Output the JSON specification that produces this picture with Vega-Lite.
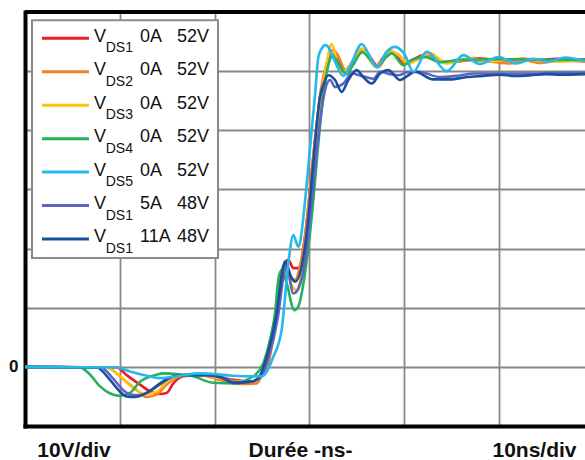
{
"$schema": "https://vega.github.io/schema/vega-lite/v6.json",
"width": 560, "height": 414,
"autosize": {"type": "none"},
"padding": {"left": 25, "top": 12, "right": 0, "bottom": 34},
"background": "white",
"config": {"view": {"stroke": null}, "font": "Liberation Sans"},
"datasets": {
"curves": [
{"s":"VDS1 0A 52V","t":0,"v":0},{"s":"VDS1 0A 52V","t":9.68,"v":-0.1},{"s":"VDS1 0A 52V","t":10.73,"v":-1.4},{"s":"VDS1 0A 52V","t":12.14,"v":-3.0},{"s":"VDS1 0A 52V","t":13.37,"v":-4.3},{"s":"VDS1 0A 52V","t":14.25,"v":-4.6},{"s":"VDS1 0A 52V","t":14.96,"v":-4.4},{"s":"VDS1 0A 52V","t":15.65,"v":-2.8},{"s":"VDS1 0A 52V","t":16.71,"v":-1.6},{"s":"VDS1 0A 52V","t":18.47,"v":-1.4},{"s":"VDS1 0A 52V","t":20.58,"v":-1.7},{"s":"VDS1 0A 52V","t":21.98,"v":-2.2},{"s":"VDS1 0A 52V","t":24.10,"v":-2.5},{"s":"VDS1 0A 52V","t":24.80,"v":-1.8},{"s":"VDS1 0A 52V","t":25.51,"v":1.5},{"s":"VDS1 0A 52V","t":26.56,"v":10},{"s":"VDS1 0A 52V","t":27.26,"v":17},{"s":"VDS1 0A 52V","t":27.79,"v":18.1},{"s":"VDS1 0A 52V","t":28.32,"v":16.7},{"s":"VDS1 0A 52V","t":28.84,"v":16.7},{"s":"VDS1 0A 52V","t":29.55,"v":22},{"s":"VDS1 0A 52V","t":30.08,"v":30},{"s":"VDS1 0A 52V","t":30.61,"v":38.5},{"s":"VDS1 0A 52V","t":31.13,"v":45.5},{"s":"VDS1 0A 52V","t":31.84,"v":50.5},{"s":"VDS1 0A 52V","t":32.54,"v":52.8},{"s":"VDS1 0A 52V","t":33.05,"v":52.3},{"s":"VDS1 0A 52V","t":33.59,"v":49.9},{"s":"VDS1 0A 52V","t":34.3,"v":51.0},{"s":"VDS1 0A 52V","t":35.01,"v":52.8},{"s":"VDS1 0A 52V","t":35.88,"v":53.5},{"s":"VDS1 0A 52V","t":36.5,"v":52.2},{"s":"VDS1 0A 52V","t":37.12,"v":51.0},{"s":"VDS1 0A 52V","t":37.8,"v":52.3},{"s":"VDS1 0A 52V","t":38.52,"v":53.5},{"s":"VDS1 0A 52V","t":39.2,"v":52.6},{"s":"VDS1 0A 52V","t":39.93,"v":51.3},{"s":"VDS1 0A 52V","t":41.0,"v":52.0},{"s":"VDS1 0A 52V","t":42.04,"v":52.7},{"s":"VDS1 0A 52V","t":43.80,"v":51.6},{"s":"VDS1 0A 52V","t":45.56,"v":51.6},{"s":"VDS1 0A 52V","t":47.3,"v":52.2},{"s":"VDS1 0A 52V","t":49.08,"v":52.0},{"s":"VDS1 0A 52V","t":50.8,"v":51.8},{"s":"VDS1 0A 52V","t":52.59,"v":52.1},{"s":"VDS1 0A 52V","t":54.3,"v":51.9},{"s":"VDS1 0A 52V","t":56.11,"v":52.1},{"s":"VDS1 0A 52V","t":57.6,"v":51.9},{"s":"VDS1 0A 52V","t":59.1,"v":52.0},

{"s":"VDS2 0A 52V","t":0,"v":0},{"s":"VDS2 0A 52V","t":8.62,"v":-0.1},{"s":"VDS2 0A 52V","t":10.37,"v":-2.1},{"s":"VDS2 0A 52V","t":11.79,"v":-3.9},{"s":"VDS2 0A 52V","t":12.84,"v":-5.1},{"s":"VDS2 0A 52V","t":13.90,"v":-4.7},{"s":"VDS2 0A 52V","t":14.96,"v":-3.0},{"s":"VDS2 0A 52V","t":16.36,"v":-1.6},{"s":"VDS2 0A 52V","t":18.47,"v":-1.4},{"s":"VDS2 0A 52V","t":20.58,"v":-2.2},{"s":"VDS2 0A 52V","t":22.69,"v":-2.9},{"s":"VDS2 0A 52V","t":24.45,"v":-2.8},{"s":"VDS2 0A 52V","t":24.98,"v":-1.5},{"s":"VDS2 0A 52V","t":25.51,"v":-0.5},{"s":"VDS2 0A 52V","t":26.1,"v":4},{"s":"VDS2 0A 52V","t":26.7,"v":11},{"s":"VDS2 0A 52V","t":27.44,"v":16.7},{"s":"VDS2 0A 52V","t":27.9,"v":15.5},{"s":"VDS2 0A 52V","t":28.50,"v":14.7},{"s":"VDS2 0A 52V","t":29.02,"v":17},{"s":"VDS2 0A 52V","t":29.55,"v":22},{"s":"VDS2 0A 52V","t":30.08,"v":30},{"s":"VDS2 0A 52V","t":30.71,"v":40},{"s":"VDS2 0A 52V","t":31.24,"v":47},{"s":"VDS2 0A 52V","t":31.87,"v":51.5},{"s":"VDS2 0A 52V","t":32.54,"v":53.6},{"s":"VDS2 0A 52V","t":32.9,"v":53},{"s":"VDS2 0A 52V","t":33.95,"v":49.9},{"s":"VDS2 0A 52V","t":34.83,"v":52},{"s":"VDS2 0A 52V","t":35.70,"v":53.5},{"s":"VDS2 0A 52V","t":36.4,"v":52},{"s":"VDS2 0A 52V","t":37.29,"v":50.7},{"s":"VDS2 0A 52V","t":38.52,"v":53.3},{"s":"VDS2 0A 52V","t":39.6,"v":52.5},{"s":"VDS2 0A 52V","t":40.11,"v":51.3},{"s":"VDS2 0A 52V","t":41.16,"v":52},{"s":"VDS2 0A 52V","t":42.74,"v":52.5},{"s":"VDS2 0A 52V","t":44.51,"v":51.5},{"s":"VDS2 0A 52V","t":46.97,"v":51.8},{"s":"VDS2 0A 52V","t":49.08,"v":51.6},{"s":"VDS2 0A 52V","t":51.19,"v":51.3},{"s":"VDS2 0A 52V","t":52.77,"v":51.8},{"s":"VDS2 0A 52V","t":54.35,"v":51.4},{"s":"VDS2 0A 52V","t":56.5,"v":51.8},{"s":"VDS2 0A 52V","t":59.1,"v":51.6},

{"s":"VDS3 0A 52V","t":0,"v":0},{"s":"VDS3 0A 52V","t":8.62,"v":-0.1},{"s":"VDS3 0A 52V","t":10.03,"v":-1.6},{"s":"VDS3 0A 52V","t":11.43,"v":-3.6},{"s":"VDS3 0A 52V","t":12.66,"v":-4.6},{"s":"VDS3 0A 52V","t":13.90,"v":-4.2},{"s":"VDS3 0A 52V","t":14.96,"v":-2.5},{"s":"VDS3 0A 52V","t":16.36,"v":-1.5},{"s":"VDS3 0A 52V","t":18.47,"v":-1.3},{"s":"VDS3 0A 52V","t":20.58,"v":-1.9},{"s":"VDS3 0A 52V","t":22.34,"v":-2.5},{"s":"VDS3 0A 52V","t":24.10,"v":-2.5},{"s":"VDS3 0A 52V","t":24.80,"v":-1.7},{"s":"VDS3 0A 52V","t":25.4,"v":0.5},{"s":"VDS3 0A 52V","t":26.1,"v":6},{"s":"VDS3 0A 52V","t":26.91,"v":13},{"s":"VDS3 0A 52V","t":27.62,"v":16.1},{"s":"VDS3 0A 52V","t":28.07,"v":14.0},{"s":"VDS3 0A 52V","t":28.68,"v":13.0},{"s":"VDS3 0A 52V","t":29.2,"v":16},{"s":"VDS3 0A 52V","t":29.7,"v":22},{"s":"VDS3 0A 52V","t":30.24,"v":30},{"s":"VDS3 0A 52V","t":30.77,"v":39},{"s":"VDS3 0A 52V","t":31.3,"v":46},{"s":"VDS3 0A 52V","t":31.8,"v":51},{"s":"VDS3 0A 52V","t":32.37,"v":54.6},{"s":"VDS3 0A 52V","t":32.8,"v":52.5},{"s":"VDS3 0A 52V","t":33.42,"v":49.6},{"s":"VDS3 0A 52V","t":34.3,"v":51},{"s":"VDS3 0A 52V","t":35.54,"v":53.8},{"s":"VDS3 0A 52V","t":36.2,"v":52.5},{"s":"VDS3 0A 52V","t":36.94,"v":50.8},{"s":"VDS3 0A 52V","t":37.7,"v":51.8},{"s":"VDS3 0A 52V","t":38.70,"v":53.3},{"s":"VDS3 0A 52V","t":39.58,"v":52.5},{"s":"VDS3 0A 52V","t":40.45,"v":51.3},{"s":"VDS3 0A 52V","t":42.74,"v":53.0},{"s":"VDS3 0A 52V","t":44.51,"v":51.3},{"s":"VDS3 0A 52V","t":46.97,"v":52.2},{"s":"VDS3 0A 52V","t":49.08,"v":51.7},{"s":"VDS3 0A 52V","t":52.24,"v":52.1},{"s":"VDS3 0A 52V","t":55.4,"v":51.6},{"s":"VDS3 0A 52V","t":59.1,"v":51.8},

{"s":"VDS4 0A 52V","t":0,"v":0},{"s":"VDS4 0A 52V","t":5.80,"v":-0.1},{"s":"VDS4 0A 52V","t":6.8,"v":-1.2},{"s":"VDS4 0A 52V","t":7.92,"v":-3.3},{"s":"VDS4 0A 52V","t":9.0,"v":-4.5},{"s":"VDS4 0A 52V","t":10.03,"v":-4.9},{"s":"VDS4 0A 52V","t":11.08,"v":-4.4},{"s":"VDS4 0A 52V","t":12.14,"v":-2.5},{"s":"VDS4 0A 52V","t":13.54,"v":-1.5},{"s":"VDS4 0A 52V","t":14.60,"v":-1.1},{"s":"VDS4 0A 52V","t":16.01,"v":-1.2},{"s":"VDS4 0A 52V","t":17.76,"v":-1.6},{"s":"VDS4 0A 52V","t":19.87,"v":-2.7},{"s":"VDS4 0A 52V","t":22.34,"v":-2.8},{"s":"VDS4 0A 52V","t":23.75,"v":-1.9},{"s":"VDS4 0A 52V","t":24.27,"v":-1.4},{"s":"VDS4 0A 52V","t":25.15,"v":0.6},{"s":"VDS4 0A 52V","t":25.86,"v":4.6},{"s":"VDS4 0A 52V","t":26.39,"v":9.1},{"s":"VDS4 0A 52V","t":26.73,"v":14.7},{"s":"VDS4 0A 52V","t":27.09,"v":16.4},{"s":"VDS4 0A 52V","t":27.62,"v":14.1},{"s":"VDS4 0A 52V","t":28.42,"v":9.6},{"s":"VDS4 0A 52V","t":28.84,"v":10.2},{"s":"VDS4 0A 52V","t":29.55,"v":15.8},{"s":"VDS4 0A 52V","t":30.26,"v":25.4},{"s":"VDS4 0A 52V","t":30.96,"v":37.8},{"s":"VDS4 0A 52V","t":31.48,"v":46.2},{"s":"VDS4 0A 52V","t":32.01,"v":51.0},{"s":"VDS4 0A 52V","t":32.37,"v":52.7},{"s":"VDS4 0A 52V","t":32.72,"v":52.2},{"s":"VDS4 0A 52V","t":33.25,"v":50.8},{"s":"VDS4 0A 52V","t":33.95,"v":49.5},{"s":"VDS4 0A 52V","t":34.6,"v":51.0},{"s":"VDS4 0A 52V","t":35.6,"v":53.2},{"s":"VDS4 0A 52V","t":36.3,"v":52.2},{"s":"VDS4 0A 52V","t":37.12,"v":50.8},{"s":"VDS4 0A 52V","t":38.0,"v":52.2},{"s":"VDS4 0A 52V","t":38.7,"v":53.0},{"s":"VDS4 0A 52V","t":39.93,"v":51.0},{"s":"VDS4 0A 52V","t":40.85,"v":51.9},{"s":"VDS4 0A 52V","t":42.22,"v":52.4},{"s":"VDS4 0A 52V","t":43.80,"v":51.5},{"s":"VDS4 0A 52V","t":45.9,"v":51.9},{"s":"VDS4 0A 52V","t":49.08,"v":52.0},{"s":"VDS4 0A 52V","t":52.2,"v":52.0},{"s":"VDS4 0A 52V","t":55.4,"v":51.9},{"s":"VDS4 0A 52V","t":59.1,"v":51.9},

{"s":"VDS1 5A 48V","t":0,"v":0},{"s":"VDS1 5A 48V","t":8.0,"v":-0.1},{"s":"VDS1 5A 48V","t":9.3,"v":-2.0},{"s":"VDS1 5A 48V","t":10.4,"v":-4.0},{"s":"VDS1 5A 48V","t":11.1,"v":-4.7},{"s":"VDS1 5A 48V","t":12.0,"v":-4.8},{"s":"VDS1 5A 48V","t":13.2,"v":-4.1},{"s":"VDS1 5A 48V","t":14.6,"v":-2.6},{"s":"VDS1 5A 48V","t":15.7,"v":-1.6},{"s":"VDS1 5A 48V","t":17.5,"v":-1.3},{"s":"VDS1 5A 48V","t":19.5,"v":-1.4},{"s":"VDS1 5A 48V","t":21.0,"v":-1.9},{"s":"VDS1 5A 48V","t":22.3,"v":-2.6},{"s":"VDS1 5A 48V","t":23.9,"v":-2.5},{"s":"VDS1 5A 48V","t":24.8,"v":-1.9},{"s":"VDS1 5A 48V","t":25.7,"v":1.5},{"s":"VDS1 5A 48V","t":26.7,"v":8.5},{"s":"VDS1 5A 48V","t":27.35,"v":16.0},{"s":"VDS1 5A 48V","t":27.6,"v":17.2},{"s":"VDS1 5A 48V","t":28.32,"v":12.4},{"s":"VDS1 5A 48V","t":28.7,"v":12.8},{"s":"VDS1 5A 48V","t":29.7,"v":19.5},{"s":"VDS1 5A 48V","t":30.3,"v":28.5},{"s":"VDS1 5A 48V","t":30.9,"v":38},{"s":"VDS1 5A 48V","t":31.4,"v":44.5},{"s":"VDS1 5A 48V","t":31.84,"v":47.8},{"s":"VDS1 5A 48V","t":32.2,"v":48.5},{"s":"VDS1 5A 48V","t":32.72,"v":47.3},{"s":"VDS1 5A 48V","t":33.6,"v":47.9},{"s":"VDS1 5A 48V","t":34.48,"v":49.6},{"s":"VDS1 5A 48V","t":35.5,"v":49.2},{"s":"VDS1 5A 48V","t":36.8,"v":48.7},{"s":"VDS1 5A 48V","t":37.47,"v":49.9},{"s":"VDS1 5A 48V","t":38.52,"v":49.5},{"s":"VDS1 5A 48V","t":39.40,"v":49.3},{"s":"VDS1 5A 48V","t":40.3,"v":49.8},{"s":"VDS1 5A 48V","t":41.51,"v":49.9},{"s":"VDS1 5A 48V","t":43.80,"v":49.0},{"s":"VDS1 5A 48V","t":45.5,"v":49.2},{"s":"VDS1 5A 48V","t":47.5,"v":49.6},{"s":"VDS1 5A 48V","t":50.13,"v":49.6},{"s":"VDS1 5A 48V","t":53.3,"v":49.6},{"s":"VDS1 5A 48V","t":56.11,"v":49.7},{"s":"VDS1 5A 48V","t":59.1,"v":49.7},

{"s":"VDS1 11A 48V","t":0,"v":0},{"s":"VDS1 11A 48V","t":7.57,"v":-0.1},{"s":"VDS1 11A 48V","t":8.97,"v":-2.2},{"s":"VDS1 11A 48V","t":10.03,"v":-4.2},{"s":"VDS1 11A 48V","t":10.73,"v":-5.0},{"s":"VDS1 11A 48V","t":11.61,"v":-5.1},{"s":"VDS1 11A 48V","t":12.84,"v":-4.4},{"s":"VDS1 11A 48V","t":14.25,"v":-2.8},{"s":"VDS1 11A 48V","t":15.30,"v":-1.8},{"s":"VDS1 11A 48V","t":17.07,"v":-1.4},{"s":"VDS1 11A 48V","t":19.18,"v":-1.4},{"s":"VDS1 11A 48V","t":20.58,"v":-1.7},{"s":"VDS1 11A 48V","t":21.98,"v":-2.7},{"s":"VDS1 11A 48V","t":23.75,"v":-2.5},{"s":"VDS1 11A 48V","t":24.62,"v":-1.9},{"s":"VDS1 11A 48V","t":25.51,"v":1.7},{"s":"VDS1 11A 48V","t":26.56,"v":9.1},{"s":"VDS1 11A 48V","t":27.26,"v":16.9},{"s":"VDS1 11A 48V","t":27.44,"v":17.8},{"s":"VDS1 11A 48V","t":28.15,"v":15.0},{"s":"VDS1 11A 48V","t":28.50,"v":14.4},{"s":"VDS1 11A 48V","t":29.55,"v":20.3},{"s":"VDS1 11A 48V","t":30.08,"v":28.2},{"s":"VDS1 11A 48V","t":30.61,"v":37.8},{"s":"VDS1 11A 48V","t":31.13,"v":45.6},{"s":"VDS1 11A 48V","t":31.48,"v":47.6},{"s":"VDS1 11A 48V","t":32.01,"v":49.3},{"s":"VDS1 11A 48V","t":32.72,"v":48.5},{"s":"VDS1 11A 48V","t":33.42,"v":46.5},{"s":"VDS1 11A 48V","t":34.12,"v":48.5},{"s":"VDS1 11A 48V","t":35.01,"v":50.2},{"s":"VDS1 11A 48V","t":35.70,"v":49.0},{"s":"VDS1 11A 48V","t":36.59,"v":47.9},{"s":"VDS1 11A 48V","t":37.47,"v":49.6},{"s":"VDS1 11A 48V","t":38.34,"v":50.2},{"s":"VDS1 11A 48V","t":39.58,"v":48.5},{"s":"VDS1 11A 48V","t":40.45,"v":49.3},{"s":"VDS1 11A 48V","t":41.16,"v":49.9},{"s":"VDS1 11A 48V","t":43.09,"v":48.6},{"s":"VDS1 11A 48V","t":44.85,"v":48.6},{"s":"VDS1 11A 48V","t":46.62,"v":49.0},{"s":"VDS1 11A 48V","t":48.3,"v":49.2},{"s":"VDS1 11A 48V","t":50.13,"v":49.4},{"s":"VDS1 11A 48V","t":51.7,"v":49.2},{"s":"VDS1 11A 48V","t":53.30,"v":49.3},{"s":"VDS1 11A 48V","t":55.0,"v":49.5},{"s":"VDS1 11A 48V","t":56.5,"v":49.4},{"s":"VDS1 11A 48V","t":59.1,"v":49.5},

{"s":"VDS5 0A 52V","t":0,"v":0},{"s":"VDS5 0A 52V","t":9.68,"v":-0.1},{"s":"VDS5 0A 52V","t":11.08,"v":-0.8},{"s":"VDS5 0A 52V","t":12.84,"v":-1.5},{"s":"VDS5 0A 52V","t":14.25,"v":-1.9},{"s":"VDS5 0A 52V","t":16.36,"v":-1.5},{"s":"VDS5 0A 52V","t":18.47,"v":-1.1},{"s":"VDS5 0A 52V","t":19.87,"v":-1.2},{"s":"VDS5 0A 52V","t":21.98,"v":-1.5},{"s":"VDS5 0A 52V","t":23.75,"v":-1.6},{"s":"VDS5 0A 52V","t":24.98,"v":-1.6},{"s":"VDS5 0A 52V","t":26.21,"v":1.7},{"s":"VDS5 0A 52V","t":27.09,"v":6.3},{"s":"VDS5 0A 52V","t":27.79,"v":17.5},{"s":"VDS5 0A 52V","t":28.32,"v":22.3},{"s":"VDS5 0A 52V","t":28.84,"v":20.3},{"s":"VDS5 0A 52V","t":29.02,"v":21},{"s":"VDS5 0A 52V","t":29.55,"v":28},{"s":"VDS5 0A 52V","t":30.08,"v":37},{"s":"VDS5 0A 52V","t":30.61,"v":46},{"s":"VDS5 0A 52V","t":30.96,"v":52.4},{"s":"VDS5 0A 52V","t":31.31,"v":53.8},{"s":"VDS5 0A 52V","t":31.66,"v":54.4},{"s":"VDS5 0A 52V","t":32.01,"v":54.1},{"s":"VDS5 0A 52V","t":32.19,"v":53.5},{"s":"VDS5 0A 52V","t":32.72,"v":51.6},{"s":"VDS5 0A 52V","t":33.59,"v":49.2},{"s":"VDS5 0A 52V","t":34.3,"v":50.8},{"s":"VDS5 0A 52V","t":35.54,"v":54.6},{"s":"VDS5 0A 52V","t":36.23,"v":53.0},{"s":"VDS5 0A 52V","t":37.15,"v":50.6},{"s":"VDS5 0A 52V","t":38.17,"v":53.3},{"s":"VDS5 0A 52V","t":39.05,"v":54.1},{"s":"VDS5 0A 52V","t":40.11,"v":52.7},{"s":"VDS5 0A 52V","t":40.98,"v":49.9},{"s":"VDS5 0A 52V","t":42.40,"v":53.3},{"s":"VDS5 0A 52V","t":44.51,"v":50.0},{"s":"VDS5 0A 52V","t":46.26,"v":52.7},{"s":"VDS5 0A 52V","t":48.02,"v":51.2},{"s":"VDS5 0A 52V","t":49.95,"v":52.4},{"s":"VDS5 0A 52V","t":51.89,"v":51.3},{"s":"VDS5 0A 52V","t":53.65,"v":52.1},{"s":"VDS5 0A 52V","t":55.23,"v":51.6},{"s":"VDS5 0A 52V","t":56.99,"v":52.3},{"s":"VDS5 0A 52V","t":59.1,"v":51.7}
],
"leg": [
{"s":"VDS1 0A 52V","sub":"DS1","cur":"0A","volt":"52V"},
{"s":"VDS2 0A 52V","sub":"DS2","cur":"0A","volt":"52V"},
{"s":"VDS3 0A 52V","sub":"DS3","cur":"0A","volt":"52V"},
{"s":"VDS4 0A 52V","sub":"DS4","cur":"0A","volt":"52V"},
{"s":"VDS5 0A 52V","sub":"DS5","cur":"0A","volt":"52V"},
{"s":"VDS1 5A 48V","sub":"DS1","cur":"5A","volt":"48V"},
{"s":"VDS1 11A 48V","sub":"DS1","cur":"11A","volt":"48V"}
]
},
"layer": [
{"layer": [
{"data": {"name": "curves"},
 "mark": {"type": "line", "strokeWidth": 2.6, "clip": true, "interpolate": "monotone"},
 "encoding": {
  "x": {"field": "t", "type": "quantitative",
        "scale": {"domain": [0, 59.1], "nice": false, "zero": false},
        "axis": {"title": null, "values": [5.12, 10, 20, 29.02, 30, 40, 50, 53.72],
                 "labelExpr": "datum.value < 6 ? '10V/div' : (datum.value > 29 && datum.value < 29.5) ? 'Durée -ns-' : datum.value > 53 ? '10ns/div' : ''",
                 "ticks": false, "labelPadding": 30, "labelBaseline": "alphabetic",
                 "labelFontSize": 21, "labelFontWeight": "bold", "labelColor": "#111", "labelFont": "Liberation Sans",
                 "labelOverlap": false, "labelFlush": false, "labelBound": false, "labelAngle": 0,
                 "grid": true, "gridColor": "#888888", "gridWidth": 1.8,
                 "gridOpacity": {"condition": {"test": "datum.value % 10 === 0", "value": 1}, "value": 0},
                 "domainColor": "#000", "domainWidth": 4, "domainCap": "square"}},
  "y": {"field": "v", "type": "quantitative",
        "scale": {"domain": [-10, 60], "nice": false, "zero": false},
        "axis": {"title": null, "values": [-10, 0, 10, 20, 30, 40, 50, 60],
                 "labelExpr": "datum.value === 0 ? '0' : ''",
                 "ticks": false, "labelPadding": 7, "labelFontSize": 17, "labelFontWeight": "bold", "labelColor": "#111", "labelFont": "Liberation Sans",
                 "labelBaseline": "middle",
                 "grid": true, "gridColor": "#888888", "gridWidth": 1.8,
                 "domainColor": "#000", "domainWidth": 4, "domainCap": "square"}},
  "color": {"field": "s", "type": "nominal", "legend": null,
            "scale": {"domain": ["VDS1 0A 52V","VDS2 0A 52V","VDS3 0A 52V","VDS4 0A 52V","VDS5 0A 52V","VDS1 5A 48V","VDS1 11A 48V"],
                      "range": ["#ed1c24","#f58025","#ffc20e","#23b15a","#26b8ea","#5c64c6","#1a4f9d"]}}
 }},
{"data": {"values": [{}]},
 "mark": {"type": "rule", "color": "#000", "strokeWidth": 4},
 "encoding": {"y": {"datum": 60}}},
{"data": {"values": [{}]},
 "mark": {"type": "rect", "fill": "white", "stroke": "#8a8a8a", "strokeWidth": 2},
 "encoding": {"x": {"datum": 0.74}, "x2": {"datum": 20.37}, "y": {"datum": 58.6}, "y2": {"datum": 18.4}}}
]},
{"data": {"name": "leg"},
 "encoding": {
  "y": {"field": "s", "type": "nominal", "axis": null,
        "scale": {"type": "point", "padding": 0, "range": [26.3, 227],
                  "domain": ["VDS1 0A 52V","VDS2 0A 52V","VDS3 0A 52V","VDS4 0A 52V","VDS5 0A 52V","VDS1 5A 48V","VDS1 11A 48V"]}}
 },
 "layer": [
  {"mark": {"type": "rule", "strokeWidth": 3},
   "encoding": {"x": {"datum": 1.79}, "x2": {"datum": 6.75}, "color": {"field": "s", "type": "nominal", "legend": null}}},
  {"mark": {"type": "text", "align": "left", "baseline": "alphabetic", "dy": 3.4, "fontSize": 18, "font": "Liberation Sans", "color": "#111"},
   "encoding": {"x": {"datum": 7.28}, "text": {"value": "V"}}},
  {"mark": {"type": "text", "align": "left", "baseline": "alphabetic", "dy": 14, "fontSize": 14, "font": "Liberation Sans", "color": "#111"},
   "encoding": {"x": {"datum": 8.52}, "text": {"field": "sub"}}},
  {"mark": {"type": "text", "align": "left", "baseline": "alphabetic", "dy": 3.4, "fontSize": 18, "font": "Liberation Sans", "color": "#111"},
   "encoding": {"x": {"datum": 12.14}, "text": {"field": "cur"}}},
  {"mark": {"type": "text", "align": "left", "baseline": "alphabetic", "dy": 3.4, "fontSize": 18, "font": "Liberation Sans", "color": "#111"},
   "encoding": {"x": {"datum": 16.05}, "text": {"field": "volt"}}}
 ]}
],
"resolve": {"scale": {"y": "independent"}}
}
